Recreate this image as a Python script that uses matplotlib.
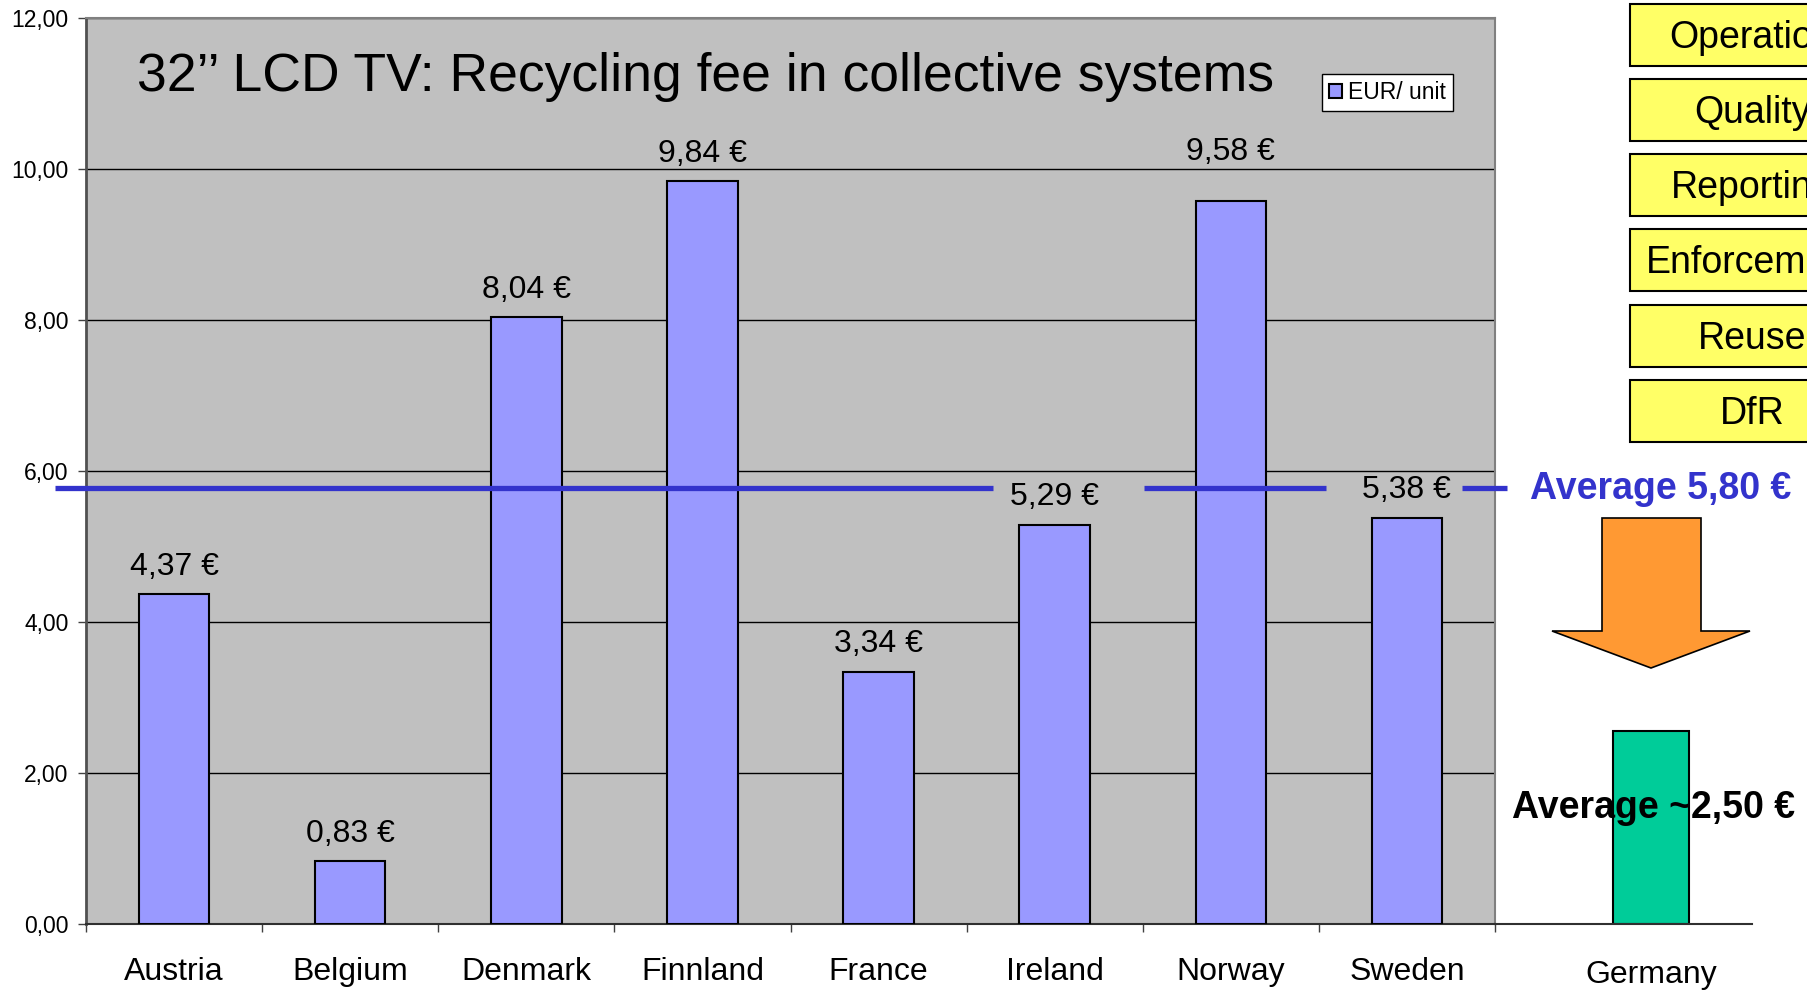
import matplotlib.pyplot as plt
from matplotlib.patches import Rectangle, Polygon

plt.rcParams['font.family'] = ['Liberation Sans', 'DejaVu Sans']

# data
countries = ['Austria', 'Belgium', 'Denmark', 'Finnland', 'France', 'Ireland', 'Norway', 'Sweden']
fees = [4.37, 0.83, 8.04, 9.84, 3.34, 5.29, 9.58, 5.38]
fee_labels = ['4,37 €', '0,83 €', '8,04 €', '9,84 €', '3,34 €', '5,29 €', '9,58 €', '5,38 €']
avg_fee = 5.77
avg_label = 'Average 5,80 €'
germany = ['Germany']
germany_fee = [2.55]
germany_label = 'Average ~2,50 €'
measures = ['Operation', 'Quality', 'Reporting', 'Enforcement', 'Reuse', 'DfR']
y_ticks = [0, 2, 4, 6, 8, 10, 12]
y_tick_labels = ['0,00', '2,00', '4,00', '6,00', '8,00', '10,00', '12,00']

W, H = 1807, 990


def fx(x):
    return x / W


def fy(y):
    return 1 - y / H


fig = plt.figure(figsize=(W / 100, H / 100), dpi=100)

# main chart
ax = fig.add_axes([fx(86), fy(924), fx(1495) - fx(86), fy(18) - fy(924)])
ax.set_facecolor('#C0C0C0')
x = range(len(countries))
ax.bar(x, fees, width=0.4, color='#9999FF', edgecolor='black', linewidth=1.5,
       label='EUR/ unit', zorder=3)
ax.set_xlim(-0.5, len(countries) - 0.5)
ax.set_ylim(0, 12)
ax.set_yticks(y_ticks)
ax.set_yticklabels(y_tick_labels, fontsize=16.5)
ax.yaxis.grid(True, color='black', linewidth=1)
ax.set_axisbelow(True)
ax.tick_params(axis='y', length=6, width=1, pad=6.5, color='#404040')
ax.set_xticks(list(x))
ax.set_xticklabels(countries, fontsize=23)
ax.tick_params(axis='x', which='major', length=0, pad=24)
ax.set_xticks([i - 0.5 for i in range(len(countries) + 1)], minor=True)
ax.tick_params(axis='x', which='minor', length=6, width=1, color='#404040')
for s in ['top', 'right']:
    ax.spines[s].set_color('#808080')
    ax.spines[s].set_linewidth(1.5)
ax.spines['left'].set_color('#505050')
ax.spines['left'].set_linewidth(2)
ax.spines['bottom'].set_color('#303030')
ax.spines['bottom'].set_linewidth(1.5)

# Norway's label sits higher, level with Finnland's
for i, (v, lab) in enumerate(zip(fees, fee_labels)):
    off = 29 if countries[i] == 'Norway' else 14
    ax.annotate(lab, (i, v), xytext=(0, off), textcoords='offset points',
                ha='center', va='baseline', fontsize=23, zorder=5)

ax.text(0.036, 0.9197, '32’’ LCD TV: Recycling fee in collective systems',
        transform=ax.transAxes, fontsize=38.5, va='baseline', ha='left')

leg = ax.legend(loc='upper left', bbox_to_anchor=(0.877, 0.938), fontsize=16.5,
                frameon=True, fancybox=False, edgecolor='black', framealpha=1,
                handlelength=0.6, handleheight=0.6, handletextpad=0.25,
                borderpad=0.3, borderaxespad=0)
leg.get_frame().set_linewidth(1)

# average line, broken where the labels sit
for x0, x1 in [(-0.676, 4.65), (5.508, 6.541), (7.314, 7.569)]:
    ax.plot([x0, x1], [avg_fee, avg_fee], color='#3333CC', linewidth=3.8,
            solid_capstyle='butt', clip_on=False, zorder=4)

# Germany panel
ax2 = fig.add_axes([fx(1495), fy(924), fx(1752) - fx(1495), fy(18) - fy(924)])
ax2.patch.set_visible(False)
ax2.bar([0], germany_fee, width=0.39, color='#00CC99', edgecolor='black', linewidth=1.5)
ax2.set_xlim(-0.80, 0.518)
ax2.set_ylim(0, 12)
ax2.set_yticks([])
ax2.set_xticks([0])
ax2.set_xticklabels(germany, fontsize=23)
ax2.tick_params(axis='x', length=0, pad=26)
for s in ['top', 'right', 'left']:
    ax2.spines[s].set_visible(False)
ax2.spines['bottom'].set_color('#303030')
ax2.spines['bottom'].set_linewidth(1.5)
ax2.text(fx(1654), fy(808), germany_label, transform=fig.transFigure, fontsize=27,
         fontweight='bold', ha='center', va='center', zorder=5)

fig.text(fx(1530), fy(499), avg_label, fontsize=27, fontweight='bold',
         color='#3333CC', ha='left', va='baseline')

# arrow
arrow = [(1602, 518), (1701, 518), (1701, 631), (1750, 631), (1651, 668),
         (1552, 631), (1602, 631)]
fig.add_artist(Polygon([(fx(a), fy(b)) for a, b in arrow], closed=True,
                       facecolor='#FF9933', edgecolor='black', linewidth=1.2,
                       transform=fig.transFigure))

# yellow boxes on the right
for i, m in enumerate(measures):
    top = 3.5 + 75.3 * i
    fig.add_artist(Rectangle((fx(1630), fy(top + 62)), fx(250), 62 / H,
                             facecolor='#FFFF66', edgecolor='black', linewidth=1.5,
                             transform=fig.transFigure))
    fig.text(fx(1752), fy(top + 44), m, fontsize=27, ha='center', va='baseline')

fig.savefig('out.png', dpi=100, facecolor='white')
